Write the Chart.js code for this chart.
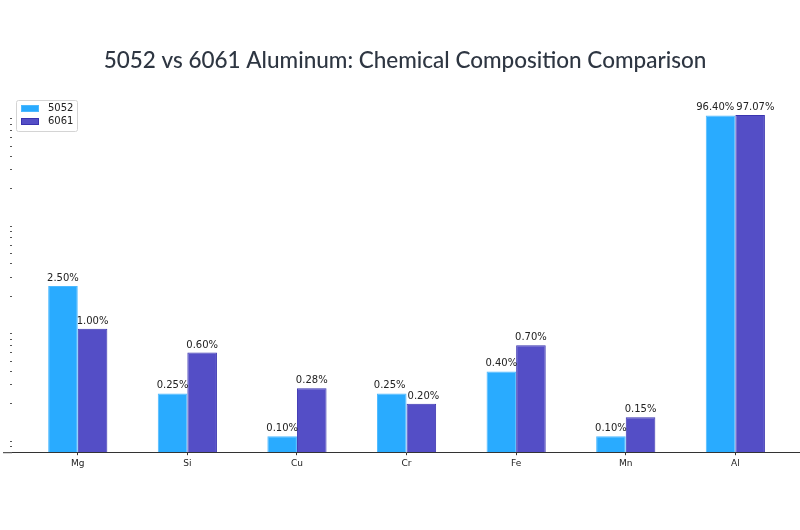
<!DOCTYPE html>
<html>
<head>
<meta charset="utf-8">
<script src="https://cdn.jsdelivr.net/npm/chart.js@4"></script>
<style>
  html, body { margin: 0; padding: 0; background: #fff; }
  #wrap { width: 800px; height: 530px; }
</style>
</head>
<body>
<div id="wrap"><canvas id="compChart"></canvas></div>
<script>
// chart data
const elements = ['Mg', 'Si', 'Cu', 'Cr', 'Fe', 'Mn', 'Al'];
const alloy5052 = [2.50, 0.25, 0.10, 0.25, 0.40, 0.10, 96.40];
const alloy6061 = [1.00, 0.60, 0.28, 0.20, 0.70, 0.15, 97.07];
const seriesNames = ['5052', '6061'];
const minorMantissas = [2, 3, 4, 5, 6, 7, 8, 9];

const toPoints = (arr) => arr.map((v, i) => ({x: i, y: v}));

// labels on top of bars + legend box inside plot + spine stub
const extras = {
    id: 'extras',
    afterDatasetsDraw(chart) {
        const ctx = chart.ctx;
        ctx.save();
        ctx.font = '10px "DejaVu Sans"';
        ctx.fillStyle = '#222';
        ctx.textAlign = 'center';
        ctx.textBaseline = 'alphabetic';
        const metaA = chart.getDatasetMeta(0).data;
        const metaB = chart.getDatasetMeta(1).data;
        const dsA = chart.data.datasets[0].data;
        const dsB = chart.data.datasets[1].data;
        metaA.forEach((barA, i) => {
            const barB = metaB[i];
            const tA = dsA[i].y.toFixed(2) + '%';
            const tB = dsB[i].y.toFixed(2) + '%';
            let xA = barA.x, xB = barB.x;
            // push apart labels that would collide at the same height
            if (Math.abs(barA.y - barB.y) < 12) {
                const need = (ctx.measureText(tA).width + ctx.measureText(tB).width) / 2 + 2;
                const gap = xB - xA;
                if (gap < need) {
                    xA -= (need - gap) / 2;
                    xB += (need - gap) / 2;
                }
            }
            ctx.fillText(tA, xA, barA.y - 5);
            ctx.fillText(tB, xB, barB.y - 5);
        });
        ctx.restore();
    },
    afterDraw(chart) {
        const ctx = chart.ctx;
        const area = chart.chartArea;
        ctx.save();
        // bottom spine reaches a bit further left than the plot area
        ctx.strokeStyle = '#333';
        ctx.lineWidth = 1;
        ctx.beginPath();
        ctx.moveTo(3, area.bottom + 0.5);
        ctx.lineTo(area.left, area.bottom + 0.5);
        ctx.stroke();

        // legend
        ctx.fillStyle = 'rgba(255,255,255,0.85)';
        ctx.strokeStyle = '#d4d4d4';
        ctx.beginPath();
        ctx.roundRect(16.5, 100.5, 61, 31, 2);
        ctx.fill();
        ctx.stroke();
        ctx.font = '10px "DejaVu Sans"';
        ctx.textAlign = 'left';
        ctx.textBaseline = 'middle';
        chart.data.datasets.forEach((ds, di) => {
            const y = 108.5 + di * 13;
            ctx.fillStyle = ds.backgroundColor;
            ctx.fillRect(21, y - 3.5, 18, 7);
            ctx.strokeStyle = ds.borderColor;
            ctx.strokeRect(21.5, y - 3, 17, 6);
            ctx.fillStyle = '#222';
            ctx.fillText(ds.label, 48, y);
        });
        ctx.restore();
    }
};

const ctx = document.getElementById('compChart').getContext('2d');
const compChart = new Chart(ctx, {
    type: 'bar',
    data: {
        datasets: [{
                label: seriesNames[0],
                data: toPoints(alloy5052),
                backgroundColor: '#29abff',
                borderColor: '#4cb9ff',
                borderWidth: 1
            }, {
                label: seriesNames[1],
                data: toPoints(alloy6061),
                backgroundColor: '#544ec6',
                borderColor: '#3a34b0',
                borderWidth: 1
            }]
    },
    options: {
        responsive: true,
        maintainAspectRatio: false,
        animation: false,
        categoryPercentage: 0.54,
        barPercentage: 1.0,
        layout: {
            padding: {left: 10, right: 0, top: 0, bottom: 58}
        },
        plugins: {
            legend: {display: false},
            tooltip: {enabled: false},
            title: {
                display: true,
                text: '5052 vs 6061 Aluminum: Chemical Composition Comparison',
                color: '#2e3642',
                font: {family: 'Lato', size: 22.5, weight: '500'},
                padding: {top: 47, bottom: 25}
            }
        },
        scales: {
            x: {
                type: 'linear',
                offset: false,
                min: -0.6,
                max: 6.59,
                afterBuildTicks: (scale) => {
                    scale.ticks = elements.map((e, i) => ({value: i}));
                },
                ticks: {
                    autoSkip: false,
                    maxRotation: 0,
                    padding: 3,
                    color: '#222',
                    font: {family: 'DejaVu Sans', size: 9},
                    callback: (v) => elements[v]
                },
                grid: {offset: false, drawOnChartArea: false, tickLength: 3, color: '#333'},
                border: {color: '#333', width: 1}
            },
            y: {
                type: 'logarithmic',
                min: 0.071,
                max: 137,
                afterBuildTicks: (scale) => {
                    const ticks = [];
                    for (let e = -2; e <= 2; e++) {
                        minorMantissas.forEach((m) => {
                            const v = m * Math.pow(10, e);
                            if (v >= scale.min && v <= scale.max) ticks.push({value: v});
                        });
                    }
                    scale.ticks = ticks;
                },
                ticks: {display: false},
                grid: {drawOnChartArea: false, tickLength: 2, color: '#555'},
                border: {display: false}
            }
        }
    },
    plugins: [extras]
});
</script>
</body>
</html>
